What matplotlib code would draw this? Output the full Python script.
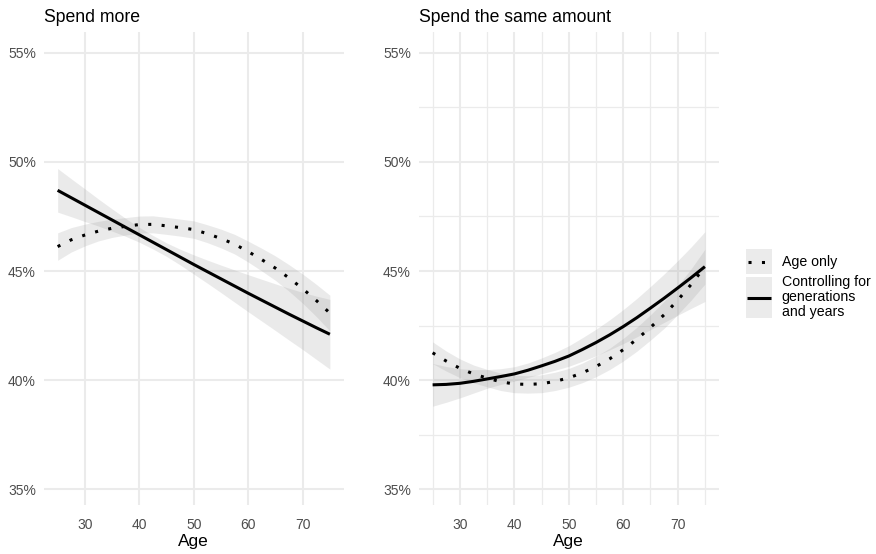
import matplotlib
matplotlib.use('Agg')
import matplotlib.pyplot as plt
from matplotlib.ticker import FuncFormatter, MultipleLocator
from matplotlib.patches import Rectangle
from matplotlib.lines import Line2D

plt.rcParams['font.family'] = ['Liberation Sans', 'DejaVu Sans']

# ---------------- data (percent) ----------------
ages = [25, 27.5, 30, 32.5, 35, 37.5, 40, 42.5, 45, 47.5, 50,
        52.5, 55, 57.5, 60, 62.5, 65, 67.5, 70, 72.5, 75]

# Panel 1: Spend more
more_age_only = [46.12, 46.43, 46.65, 46.83, 46.96, 47.05, 47.13, 47.14, 47.07, 46.99, 46.90,
                 46.71, 46.49, 46.23, 45.89, 45.52, 45.13, 44.68, 44.19, 43.65, 43.07]
more_age_only_ci = [0.63, 0.56, 0.50, 0.45, 0.42, 0.40, 0.39, 0.39, 0.39, 0.39, 0.40,
                    0.41, 0.43, 0.45, 0.48, 0.52, 0.56, 0.61, 0.67, 0.74, 0.82]
more_controlled = [48.70, 48.36, 48.02, 47.68, 47.34, 47.00, 46.66, 46.32, 45.98, 45.64, 45.30,
                   44.97, 44.64, 44.31, 43.98, 43.66, 43.34, 43.02, 42.71, 42.40, 42.10]
more_controlled_ci = [1.00, 0.87, 0.75, 0.62, 0.51, 0.41, 0.34, 0.31, 0.31, 0.36, 0.44,
                      0.53, 0.63, 0.74, 0.85, 0.96, 1.07, 1.19, 1.31, 1.45, 1.60]

# Panel 2: Spend the same amount
same_age_only = [41.25, 40.87, 40.54, 40.28, 40.09, 39.92, 39.82, 39.80, 39.83, 39.94, 40.10,
                 40.33, 40.62, 40.97, 41.39, 41.87, 42.41, 42.99, 43.66, 44.39, 45.20]
same_age_only_ci = [0.50, 0.46, 0.43, 0.41, 0.40, 0.40, 0.40, 0.40, 0.41, 0.42, 0.43,
                    0.45, 0.47, 0.49, 0.52, 0.55, 0.58, 0.62, 0.66, 0.72, 0.80]
same_controlled = [39.78, 39.80, 39.85, 39.94, 40.05, 40.16, 40.28, 40.45, 40.65, 40.86, 41.10,
                   41.40, 41.72, 42.07, 42.45, 42.86, 43.30, 43.75, 44.22, 44.70, 45.20]
same_controlled_ci = [0.98, 0.82, 0.67, 0.54, 0.43, 0.36, 0.33, 0.33, 0.36, 0.41, 0.47,
                      0.54, 0.61, 0.69, 0.78, 0.88, 0.99, 1.11, 1.25, 1.41, 1.60]

panel_titles = ["Spend more", "Spend the same amount"]
x_label = "Age"
legend_labels = ["Age only", "Controlling for\ngenerations\nand years"]

# ---------------- styling ----------------
W, H = 876, 554
fig = plt.figure(figsize=(W / 100, H / 100), dpi=100)
fig.patch.set_facecolor('white')

GRID = '#EBEBEB'
BAND = '#999999'
LW = 2.2
DOTTED = (0, (1, 3.4))


def axes_px(x0, x1, y0, y1):
    return fig.add_axes([x0 / W, 1 - y1 / H, (x1 - x0) / W, (y1 - y0) / H])


def setup(ax, title, minor):
    ax.set_xlim(22.5, 77.5)
    ax.set_ylim(34.27, 55.96)
    for s in ax.spines.values():
        s.set_visible(False)
    ax.xaxis.set_major_locator(MultipleLocator(10))
    ax.yaxis.set_major_locator(MultipleLocator(5))
    ax.yaxis.set_major_formatter(FuncFormatter(lambda v, p: f"{v:.0f}%"))
    ax.grid(True, which='major', color=GRID, lw=1.5)
    if minor:
        ax.xaxis.set_minor_locator(MultipleLocator(5))
        ax.yaxis.set_minor_locator(MultipleLocator(2.5))
        ax.grid(True, which='minor', color=GRID, lw=0.9)
        ax.tick_params(which='minor', length=0)
    ax.set_axisbelow(True)
    ax.tick_params(which='major', length=0, labelsize=10, labelcolor='#4D4D4D')
    ax.tick_params(axis='y', pad=5.8)
    ax.tick_params(axis='x', pad=9.5)
    ax.set_title(title, loc='left', fontsize=12.7, pad=7.2, color='black')
    ax.set_xlabel(x_label, fontsize=12.4, labelpad=1.5, color='black')


def draw(ax, age_only, age_only_ci, ctrl, ctrl_ci):
    ax.fill_between(ages, [v - c for v, c in zip(age_only, age_only_ci)],
                    [v + c for v, c in zip(age_only, age_only_ci)],
                    color=BAND, alpha=0.2, lw=0, zorder=2)
    ax.fill_between(ages, [v - c for v, c in zip(ctrl, ctrl_ci)],
                    [v + c for v, c in zip(ctrl, ctrl_ci)],
                    color=BAND, alpha=0.2, lw=0, zorder=2)
    ax.plot(ages, age_only, color='black', lw=LW, linestyle=DOTTED,
            dash_capstyle='butt', zorder=3)
    ax.plot(ages, ctrl, color='black', lw=LW, solid_capstyle='butt', zorder=3)


ax1 = axes_px(44, 343.5, 32, 505)
ax2 = axes_px(419, 718.5, 32, 505)
setup(ax1, panel_titles[0], minor=False)
setup(ax2, panel_titles[1], minor=True)
draw(ax1, more_age_only, more_age_only_ci, more_controlled, more_controlled_ci)
draw(ax2, same_age_only, same_age_only_ci, same_controlled, same_controlled_ci)

# ---------------- legend ----------------
def fx(x):
    return x / W


def fy(y):
    return 1 - y / H


fig.add_artist(Rectangle((fx(746), fy(274.3)), 25.7 / W, 25.3 / H,
                         transform=fig.transFigure, facecolor=GRID, edgecolor='none'))
fig.add_artist(Rectangle((fx(746), fy(318.3)), 25.7 / W, 41.6 / H,
                         transform=fig.transFigure, facecolor=GRID, edgecolor='none'))
fig.add_artist(Line2D([fx(747.8), fx(771)], [fy(261.7)] * 2, transform=fig.transFigure,
                      color='black', lw=LW, linestyle=DOTTED, dash_capstyle='butt'))
fig.add_artist(Line2D([fx(746.7), fx(770.7)], [fy(297.7)] * 2, transform=fig.transFigure,
                      color='black', lw=LW, solid_capstyle='butt'))
fig.text(fx(781.7), fy(261.7), legend_labels[0], va='center', ha='left', fontsize=10.2, color='black')
fig.text(fx(781.7), fy(297.0), legend_labels[1], va='center', ha='left', fontsize=10.2,
         color='black', linespacing=1.05)

fig.savefig('out.png', dpi=100, facecolor='white')
